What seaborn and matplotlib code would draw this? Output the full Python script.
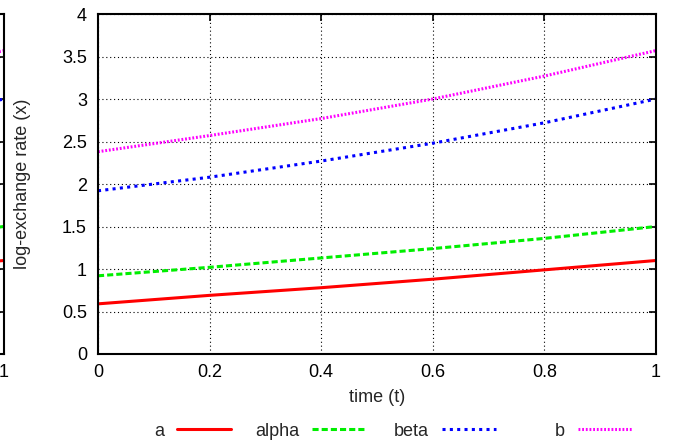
import pandas as pd
import matplotlib
matplotlib.use("Agg")
import matplotlib.pyplot as plt
import seaborn as sns

# values
t = [0.0, 0.2, 0.4, 0.6, 0.8, 1.0]
a = [0.59, 0.69, 0.78, 0.88, 0.99, 1.10]
alpha = [0.92, 1.02, 1.13, 1.24, 1.36, 1.50]
beta = [1.92, 2.08, 2.27, 2.48, 2.72, 3.00]
b = [2.38, 2.57, 2.77, 3.00, 3.27, 3.57]

names = ["a", "alpha", "beta", "b"]
colors = {"a": "#ff0000", "alpha": "#00ee00", "beta": "#0000ff", "b": "#ff00ff"}
dashes = {"a": "", "alpha": (2, 1), "beta": (1, 1.4), "b": (0.6, 0.6)}

df = pd.DataFrame({
    "t": t * 4,
    "value": a + alpha + beta + b,
    "series": sum([[n] * len(t) for n in names], []),
})

sns.set_style("white")
plt.rcParams["font.family"] = ["Liberation Sans", "DejaVu Sans"]
plt.rcParams["font.size"] = 13

W, H = 675, 444
fig = plt.figure(figsize=(W / 100, H / 100), dpi=100)

ax_l, ax_r, ax_t, ax_b = 98, 656, 14, 354
pos = [ax_l / W, 1 - ax_b / H, (ax_r - ax_l) / W, (ax_b - ax_t) / H]
ax = fig.add_axes(pos)
# partial copy of the same panel cut off at the left edge
ax_prev = fig.add_axes([(4 - (ax_r - ax_l)) / W, pos[1], pos[2], pos[3]])


def style_axes(axx):
    sns.lineplot(data=df, x="t", y="value", hue="series", style="series",
                 palette=colors, dashes=dashes, linewidth=2.2,
                 legend=False, ax=axx)
    axx.set_xlim(0, 1)
    axx.set_ylim(0, 4)
    axx.set_xticks([0, 0.2, 0.4, 0.6, 0.8, 1])
    axx.set_xticklabels(["0", "0.2", "0.4", "0.6", "0.8", "1"])
    axx.set_yticks([0, 0.5, 1, 1.5, 2, 2.5, 3, 3.5, 4])
    axx.set_yticklabels(["0", "0.5", "1", "1.5", "2", "2.5", "3", "3.5", "4"])
    axx.grid(True, color="black", linestyle=(0, (1, 2.5)), linewidth=0.8)
    axx.tick_params(direction="in", length=5, width=1.2, top=True, right=True,
                    labelsize=13, colors="black")
    axx.tick_params(axis="y", pad=8)
    axx.tick_params(axis="x", pad=7)
    for s in axx.spines.values():
        s.set_color("black")
        s.set_linewidth(1.5)
    axx.set_xlabel("time (t)", fontsize=13, labelpad=6)
    axx.set_ylabel("log-exchange rate (x)", fontsize=13, labelpad=22)


style_axes(ax_prev)
style_axes(ax)

# only the right edge of the previous panel is in view
ax_prev.set_xlabel("")
ax_prev.set_ylabel("")
ax_prev.set_yticklabels([])
ax_prev.set_xticklabels(["", "", "", "", "", "1"])

# legend entries below the plot: label first, then the line sample
lines = ax.get_lines()[:4]
ends = [231, 366, 496, 632]
for line, name, xe in zip(lines, names, ends):
    fig.legend(handles=[line], labels=[name], loc="center right",
               bbox_to_anchor=(xe / W, 1 - 431 / H), frameon=False,
               markerfirst=False, handlelength=3.0, handletextpad=0.7,
               borderpad=0, borderaxespad=0, fontsize=13)

fig.savefig("out.png", dpi=100)
